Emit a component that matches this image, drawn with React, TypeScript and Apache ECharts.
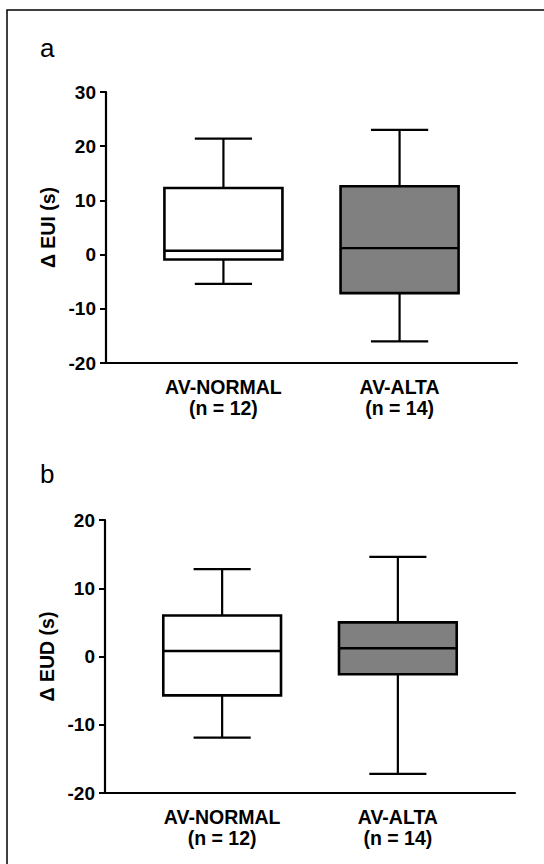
import React, { useEffect, useRef } from "react";
import * as echarts from "echarts";

const groups = ["AV-NORMAL", "AV-ALTA"];
const groupN = ["(n = 12)", "(n = 14)"];
const groupPos = [1, 2];
const groupFill = ["#ffffff", "#808080"];
// [min, Q1, median, Q3, max]
const euiBoxes = [
  [-5.4, -0.9, 0.7, 12.3, 21.4],
  [-16.0, -7.1, 1.2, 12.6, 23.0],
];
const eudBoxes = [
  [-11.9, -5.7, 0.8, 6.0, 12.8],
  [-17.2, -2.6, 1.2, 5.0, 14.6],
];
const euiAxis = { min: -20, max: 30, step: 10, name: "\u0394 EUI (s)" };
const eudAxis = { min: -20, max: 20, step: 10, name: "\u0394 EUD (s)" };
const panelLabels = ["a", "b"];

const FONT = '"Liberation Sans", Arial, sans-serif';

const renderBox = (params: any, api: any) => {
  const x = api.value(0);
  const lo = api.coord([x, api.value(1)]);
  const q1 = api.coord([x, api.value(2)]);
  const med = api.coord([x, api.value(3)]);
  const q3 = api.coord([x, api.value(4)]);
  const hi = api.coord([x, api.value(5)]);
  const unit = api.size([1, 0])[0];
  const bw = unit * 0.67;
  const cw = unit * 0.325;
  const cx = lo[0];
  const fill = groupFill[params.dataIndex];
  const st = { stroke: "#000", lineWidth: 2.2 };
  return {
    type: "group",
    children: [
      { type: "line", shape: { x1: cx, y1: hi[1], x2: cx, y2: q3[1] }, style: st },
      { type: "line", shape: { x1: cx, y1: q1[1], x2: cx, y2: lo[1] }, style: st },
      { type: "line", shape: { x1: cx - cw / 2, y1: hi[1], x2: cx + cw / 2, y2: hi[1] }, style: st },
      { type: "line", shape: { x1: cx - cw / 2, y1: lo[1], x2: cx + cw / 2, y2: lo[1] }, style: st },
      {
        type: "rect",
        shape: { x: cx - bw / 2, y: q3[1], width: bw, height: q1[1] - q3[1] },
        style: { fill, stroke: "#000", lineWidth: 2.6 },
      },
      { type: "line", shape: { x1: cx - bw / 2, y1: med[1], x2: cx + bw / 2, y2: med[1] }, style: { stroke: "#000", lineWidth: 2.4 } },
    ],
  };
};

const xAxisFor = (gridIndex: number) => ({
  type: "value",
  gridIndex,
  min: 1 / 3,
  max: 8 / 3,
  axisLine: { show: true, onZero: false, lineStyle: { color: "#000", width: 2.2 } },
  axisTick: { show: false },
  splitLine: { show: false },
  axisLabel: {
    customValues: groupPos,
    margin: 13,
    color: "#000",
    fontFamily: FONT,
    fontWeight: "bold",
    fontSize: 19.5,
    lineHeight: 21,
    formatter: (v: number) => {
      const i = groupPos.indexOf(Math.round(v));
      return i < 0 ? "" : `${groups[i]}\n${groupN[i]}`;
    },
  },
});

const yAxisFor = (gridIndex: number, ax: any) => ({
  type: "value",
  gridIndex,
  min: ax.min,
  max: ax.max,
  interval: ax.step,
  name: ax.name,
  nameLocation: "middle",
  nameGap: 44,
  nameTextStyle: { color: "#000", fontFamily: FONT, fontWeight: "bold", fontSize: 19.5 },
  axisLine: { show: true, onZero: false, lineStyle: { color: "#000", width: 2.2 } },
  axisTick: { show: true, length: 6, lineStyle: { color: "#000", width: 2 } },
  splitLine: { show: false },
  axisLabel: { color: "#000", fontFamily: FONT, fontWeight: "bold", fontSize: 19, margin: 10 },
});

export default function App() {
  const ref = useRef<HTMLDivElement>(null);
  useEffect(() => {
    document.body.style.margin = "0";
    if (!ref.current) return;
    const chart = echarts.init(ref.current, undefined, { renderer: "svg" });
    chart.setOption({
      animation: false,
      backgroundColor: "#fff",
      grid: [
        { left: 106, top: 92, width: 411, height: 271 },
        { left: 105, top: 520, width: 410, height: 273 },
      ],
      xAxis: [xAxisFor(0), xAxisFor(1)],
      yAxis: [yAxisFor(0, euiAxis), yAxisFor(1, eudAxis)],
      series: [
        {
          type: "custom",
          xAxisIndex: 0,
          yAxisIndex: 0,
          renderItem: renderBox,
          encode: { x: 0, y: [1, 2, 3, 4, 5] },
          data: euiBoxes.map((b, i) => [groupPos[i], ...b]),
        },
        {
          type: "custom",
          xAxisIndex: 1,
          yAxisIndex: 1,
          renderItem: renderBox,
          encode: { x: 0, y: [1, 2, 3, 4, 5] },
          data: eudBoxes.map((b, i) => [groupPos[i], ...b]),
        },
      ],
      graphic: [
        {
          type: "rect",
          shape: { x: 7, y: 10, width: 600, height: 900 },
          style: { fill: "none", stroke: "#000", lineWidth: 1.5 },
        },
        {
          type: "text",
          style: { text: panelLabels[0], x: 40, y: 48, font: `26px ${FONT}`, fill: "#000", verticalAlign: "middle" },
        },
        {
          type: "text",
          style: { text: panelLabels[1], x: 40, y: 474, font: `26px ${FONT}`, fill: "#000", verticalAlign: "middle" },
        },
      ],
    });
    return () => chart.dispose();
  }, []);
  return <div ref={ref} style={{ width: 544, height: 864 }} />;
}
